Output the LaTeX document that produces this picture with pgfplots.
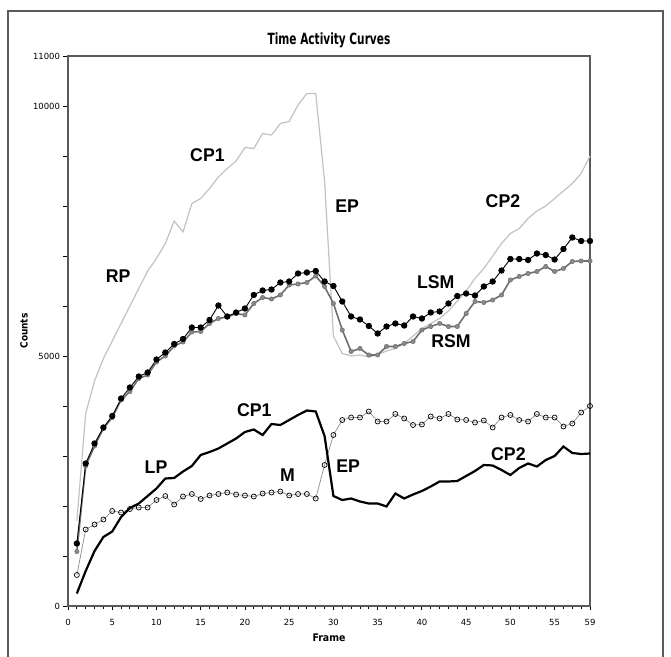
\documentclass[border=0pt]{standalone}
\usepackage{fontspec}
\setmainfont{DejaVu Sans}
\newfontfamily\labfont{Liberation Sans}
\newfontfamily\condfont{DejaVu Sans Condensed}
\usepackage{pgfplots}
\pgfplotsset{compat=1.18}
\definecolor{curvegray}{HTML}{C2C2C2}
\definecolor{rsmgray}{HTML}{6E6E6E}
\definecolor{rsmmark}{HTML}{8A8A8A}
\definecolor{mgray}{HTML}{8C8C8C}
\definecolor{framegray}{HTML}{5A5A5A}
\newcommand{\lab}[1]{\scalebox{0.96}[1]{#1}}
\begin{document}
\begin{tikzpicture}
\useasboundingbox (-68bp,-51bp) rectangle (603bp,606bp);
\draw[framegray, line width=1.2bp] (-60bp,-51bp) -- (-60bp,595bp) -- (595bp,595bp) -- (595bp,-51bp);
\begin{axis}[
  scale only axis,
  width=522bp, height=550bp,
  xmin=0, xmax=59, ymin=0, ymax=11000,
  scaled y ticks=false,
  axis line style={framegray, line width=1.1bp},
  xtick={0,5,10,15,20,25,30,35,40,45,50,55,59},
  xticklabels={0,5,10,15,20,25,30,35,40,45,50,55,59},
  minor xtick={0,1,...,59},
  ytick={0,1000,...,11000},
  yticklabels={0,,,,,5000,,,,,10000,11000},
  tick align=outside,
  xtick pos=bottom, ytick pos=left,
  major tick length=4.5bp, minor tick length=3bp,
  every tick/.style={black, line width=0.9bp},
  tick label style={font=\fontsize{8.5}{10}\selectfont},
  xticklabel style={yshift=-5bp},
  title={\scalebox{0.76}[1]{\condfont\bfseries\fontsize{15.5}{17}\selectfont Time Activity Curves}},
  title style={at={(0.5,1)}, anchor=south, yshift=-1bp},
  xlabel={\condfont\bfseries\fontsize{10.5}{11}\selectfont Frame},
  xlabel style={yshift=-2bp},
  ylabel={\condfont\bfseries\fontsize{10}{11}\selectfont Counts},
  ylabel style={at={(-44bp,275bp)}, anchor=center},
  clip=false,
]
% light gray curve (RP, CP1, EP, CP2)
\addplot[curvegray, line width=1.2bp, mark=none] coordinates {
(1,1700)(2,3850)(3,4500)(4,4950)(5,5300)(6,5650)(7,6000)(8,6350)(9,6700)(10,6950)
(11,7250)(12,7700)(13,7480)(14,8050)(15,8150)(16,8350)(17,8580)(18,8750)(19,8900)(20,9170)
(21,9150)(22,9450)(23,9420)(24,9650)(25,9690)(26,10020)(27,10250)(28,10250)(29,8500)(30,5400)
(31,5050)(32,5000)(33,5020)(34,4980)(35,5030)(36,5100)(37,5150)(38,5250)(39,5400)(40,5550)
(41,5650)(42,5750)(43,5900)(44,6100)(45,6300)(46,6550)(47,6750)(48,7000)(49,7250)(50,7450)
(51,7550)(52,7750)(53,7900)(54,8000)(55,8150)(56,8300)(57,8450)(58,8650)(59,9000)};
% RSM
\addplot[rsmgray, line width=1.6bp, mark=*, mark size=2.2bp, mark options={fill=rsmmark, draw=rsmgray, line width=0.5bp}] coordinates {
(1,1090)(2,2800)(3,3200)(4,3550)(5,3770)(6,4120)(7,4290)(8,4550)(9,4620)(10,4880)
(11,5000)(12,5200)(13,5280)(14,5480)(15,5490)(16,5650)(17,5750)(18,5780)(19,5850)(20,5820)
(21,6050)(22,6170)(23,6140)(24,6220)(25,6420)(26,6440)(27,6470)(28,6600)(29,6390)(30,6050)
(31,5520)(32,5090)(33,5150)(34,5020)(35,5020)(36,5190)(37,5190)(38,5250)(39,5290)(40,5520)
(41,5590)(42,5650)(43,5590)(44,5590)(45,5850)(46,6090)(47,6070)(48,6120)(49,6220)(50,6520)
(51,6590)(52,6650)(53,6690)(54,6790)(55,6690)(56,6750)(57,6890)(58,6900)(59,6900)};
% LSM
\addplot[black, line width=0.9bp, mark=*, mark size=2.7bp, mark options={fill=black}] coordinates {
(1,1250)(2,2850)(3,3250)(4,3570)(5,3800)(6,4150)(7,4370)(8,4590)(9,4670)(10,4930)
(11,5070)(12,5240)(13,5340)(14,5570)(15,5570)(16,5720)(17,6010)(18,5790)(19,5870)(20,5950)
(21,6220)(22,6310)(23,6330)(24,6470)(25,6490)(26,6650)(27,6670)(28,6700)(29,6490)(30,6400)
(31,6090)(32,5790)(33,5730)(34,5600)(35,5450)(36,5590)(37,5650)(38,5610)(39,5790)(40,5750)
(41,5870)(42,5890)(43,6050)(44,6200)(45,6250)(46,6210)(47,6390)(48,6490)(49,6710)(50,6940)
(51,6940)(52,6920)(53,7050)(54,7020)(55,6930)(56,7140)(57,7370)(58,7300)(59,7300)};
% M (open circles)
\addplot[mgray, line width=0.7bp, mark=o, mark size=2.5bp, mark options={draw=black, fill=white, line width=0.7bp}] coordinates {
(1,620)(2,1530)(3,1630)(4,1730)(5,1900)(6,1870)(7,1940)(8,1970)(9,1970)(10,2120)
(11,2200)(12,2030)(13,2190)(14,2240)(15,2140)(16,2210)(17,2240)(18,2270)(19,2230)(20,2210)
(21,2190)(22,2250)(23,2270)(24,2290)(25,2210)(26,2240)(27,2240)(28,2150)(29,2820)(30,3420)
(31,3720)(32,3770)(33,3770)(34,3890)(35,3690)(36,3690)(37,3840)(38,3750)(39,3620)(40,3630)
(41,3790)(42,3750)(43,3840)(44,3730)(45,3720)(46,3670)(47,3710)(48,3570)(49,3770)(50,3820)
(51,3720)(52,3690)(53,3840)(54,3770)(55,3770)(56,3590)(57,3650)(58,3870)(59,4000)};
% lower thick black curve (LP, CP1, EP, CP2)
\addplot[black, line width=2.2bp, mark=none] coordinates {
(1,250)(2,700)(3,1100)(4,1380)(5,1490)(6,1780)(7,1960)(8,2050)(9,2200)(10,2350)
(11,2550)(12,2560)(13,2690)(14,2800)(15,3020)(16,3080)(17,3150)(18,3250)(19,3350)(20,3480)
(21,3530)(22,3420)(23,3640)(24,3620)(25,3720)(26,3820)(27,3910)(28,3890)(29,3400)(30,2200)
(31,2120)(32,2150)(33,2090)(34,2050)(35,2050)(36,1990)(37,2250)(38,2150)(39,2230)(40,2300)
(41,2390)(42,2490)(43,2490)(44,2500)(45,2600)(46,2700)(47,2820)(48,2810)(49,2720)(50,2620)
(51,2760)(52,2850)(53,2790)(54,2920)(55,3000)(56,3190)(57,3060)(58,3040)(59,3050)};
% annotations
\begin{scope}[every node/.style={font=\labfont\bfseries\fontsize{18.5}{20}\selectfont, inner sep=0pt}]
\node at (axis cs:5.67,6600) {\lab{RP}};
\node at (axis cs:15.76,9020) {\lab{CP1}};
\node at (axis cs:31.56,7990) {\lab{EP}};
\node at (axis cs:49.16,8090) {\lab{CP2}};
\node at (axis cs:41.57,6470) {\lab{LSM}};
\node at (axis cs:43.28,5290) {\lab{RSM}};
\node at (axis cs:21.06,3920) {\lab{CP1}};
\node at (axis cs:9.95,2770) {\lab{LP}};
\node at (axis cs:24.82,2620) {\lab{M}};
\node at (axis cs:31.66,2790) {\lab{EP}};
\node at (axis cs:49.78,3040) {\lab{CP2}};
\end{scope}
\end{axis}
\end{tikzpicture}
\end{document}
